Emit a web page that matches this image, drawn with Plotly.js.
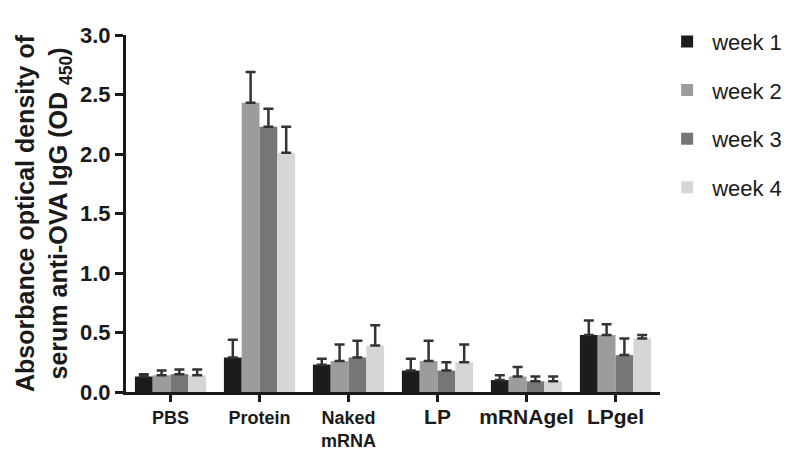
<!DOCTYPE html>
<html>
<head>
<meta charset="utf-8">
<script src="https://cdn.plot.ly/plotly-3.0.1.min.js"></script>
<style>
  html, body { margin: 0; padding: 0; background: #fff; }
  #chart { width: 800px; height: 459px; }
</style>
</head>
<body>
<div id="chart"></div>
<script>
const groups = ['PBS', 'Protein', 'Naked mRNA', 'LP', 'mRNAgel', 'LPgel'];
const groupLabels = [
    'PBS',
    'Protein',
    'Naked<br>mRNA',
    '<span style="font-size:21px">LP</span>',
    '<span style="font-size:21px">mRNAgel</span>',
    '<span style="font-size:21px">LPgel</span>'
];

const week1 = [0.13, 0.29, 0.23, 0.18, 0.10, 0.48];
const week2 = [0.14, 2.43, 0.26, 0.26, 0.13, 0.48];
const week3 = [0.15, 2.23, 0.29, 0.18, 0.09, 0.31];
const week4 = [0.14, 2.01, 0.39, 0.25, 0.09, 0.45];

const week1Err = [0.02, 0.15, 0.05, 0.10, 0.04, 0.12];
const week2Err = [0.04, 0.26, 0.14, 0.17, 0.08, 0.09];
const week3Err = [0.04, 0.15, 0.14, 0.07, 0.04, 0.14];
const week4Err = [0.05, 0.22, 0.17, 0.15, 0.04, 0.03];

const seriesNames = ['week 1', 'week 2', 'week 3', 'week 4'];
const seriesColors = ['#1c1c1c', '#9c9c9c', '#767676', '#d6d6d6'];
const seriesValues = [week1, week2, week3, week4];
const seriesErrors = [week1Err, week2Err, week3Err, week4Err];

const traces = seriesNames.map((name, i) => ({
    x: groups,
    y: seriesValues[i],
    type: 'bar',
    name: name,
    legendgroup: 'g' + i,
    marker: { color: seriesColors[i], line: { width: 0 } },
    error_y: {
        type: 'data',
        symmetric: false,
        array: seriesErrors[i],
        arrayminus: seriesErrors[i].map(() => 0),
        color: '#333333',
        thickness: 2.5,
        width: 5
    }
}));

const font = 'Arial, "Liberation Sans", sans-serif';

const layout = {
    width: 800,
    height: 459,
    margin: { l: 126, r: 137, t: 35, b: 67 },
    paper_bgcolor: '#ffffff',
    plot_bgcolor: '#ffffff',
    barmode: 'group',
    bargap: 0.2,
    bargroupgap: 0,
    font: { family: font, color: '#1a1a1a' },
    xaxis: {
        type: 'category',
        tickvals: groups,
        ticktext: groupLabels,
        showline: true,
        linecolor: '#1a1a1a',
        linewidth: 3,
        ticks: 'outside',
        ticklen: 7,
        tickwidth: 3,
        tickcolor: '#1a1a1a',
        tickfont: { family: font, size: 18, color: '#1a1a1a', weight: 'bold' },
        showgrid: false,
        zeroline: false
    },
    yaxis: {
        range: [0, 3.0],
        tickvals: [0, 0.5, 1.0, 1.5, 2.0, 2.5, 3.0],
        ticktext: ['0.0', '0.5', '1.0', '1.5', '2.0', '2.5', '3.0'],
        showline: true,
        linecolor: '#1a1a1a',
        linewidth: 3,
        ticks: 'outside',
        ticklen: 8,
        tickwidth: 3,
        tickcolor: '#1a1a1a',
        tickfont: { family: font, size: 22, color: '#1a1a1a', weight: 'bold' },
        showgrid: false,
        zeroline: false,
        title: {
            text: 'Absorbance optical density of<br>serum anti-OVA IgG (OD <sub>450</sub>)',
            font: { family: font, size: 25, color: '#1a1a1a', weight: 'bold' },
            standoff: 6
        }
    },
    showlegend: true,
    legend: {
        x: 1.004,
        xanchor: 'left',
        y: 1.04,
        yanchor: 'top',
        font: { family: font, size: 22, color: '#1a1a1a' },
        itemwidth: 40,
        tracegroupgap: 17,
        bgcolor: 'rgba(0,0,0,0)'
    }
};

Plotly.newPlot('chart', traces, layout, { displayModeBar: false, staticPlot: true });
</script>
</body>
</html>
